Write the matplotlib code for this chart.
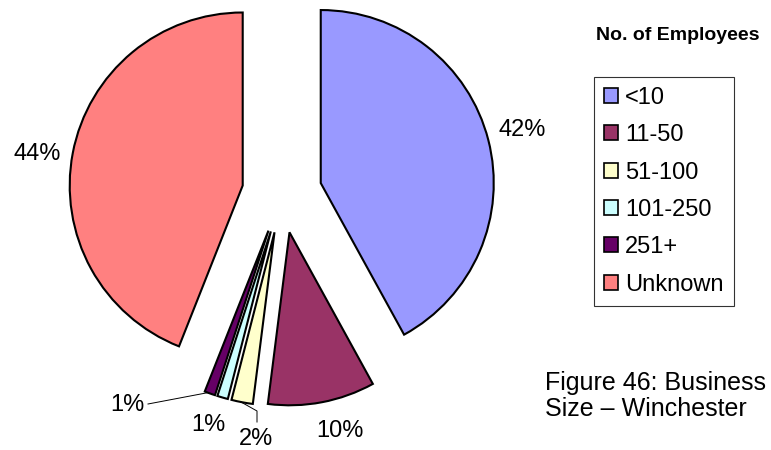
import numpy as np
import matplotlib
matplotlib.use("Agg")
import matplotlib.pyplot as plt
from matplotlib.patches import Patch

plt.rcParams['font.family'] = ['Liberation Sans', 'DejaVu Sans']

categories = ["<10", "11-50", "51-100", "101-250", "251+", "Unknown"]
values = [42, 10, 2, 1, 1, 44]
pct_labels = ["42%", "10%", "2%", "1%", "1%", "44%"]
colors = ["#9999FF", "#993366", "#FFFFCC", "#CCFFFF", "#660066", "#FF8080"]
legend_title = "No. of Employees"
caption = "Figure 46: Business\nSize \u2013 Winchester"

W, H = 771, 450
fig = plt.figure(figsize=(W / 100, H / 100), dpi=100)
ax = fig.add_axes([0, 0, 1, 1])

cx, cy = 282, H - 193
R = 173
explode = [40] * len(values)   # offset in data (pixel) units

wedges, _ = ax.pie(values, colors=colors, startangle=90, counterclock=False,
                   explode=explode, radius=R, center=(cx, cy),
                   wedgeprops=dict(edgecolor="black", linewidth=1.5))
ax.set_xlim(0, W)
ax.set_ylim(0, H)
ax.set_aspect('equal')
ax.axis('off')

# label positions (layout, pixel coords from top-left)
label_pos = [(522, 130), (340, 431), (256, 439), (208, 425), (127, 405), (37, 154)]
fs = 17
for i, w in enumerate(wedges):
    lx, ly = label_pos[i]
    ax.text(lx, H - ly, pct_labels[i], fontsize=fs, ha='center', va='center')

# leader lines from slice outer edges
def edge_point(w, frac=0.5):
    ang = np.deg2rad(w.theta1 + frac * (w.theta2 - w.theta1))
    ox, oy = w.center
    return ox + w.r * np.cos(ang), oy + w.r * np.sin(ang)

ex, ey = edge_point(wedges[2], 0.45)
ax.plot([ex, 257, 257], [ey, H - 411, H - 422], color='black', lw=0.7)
ex, ey = edge_point(wedges[4], 0.3)
ax.plot([ex, 148], [ey, H - 404], color='black', lw=0.7)

handles = [Patch(facecolor=c, edgecolor='black', linewidth=1.2) for c in colors]
leg = fig.legend(handles, categories, loc='upper left',
                 bbox_to_anchor=(594 / W, 1 - 77 / H), fontsize=fs,
                 frameon=True, fancybox=False, shadow=False,
                 handlelength=0.6, handleheight=0.6, handletextpad=0.3,
                 labelspacing=0.65, borderpad=0.42, borderaxespad=0)
leg.get_frame().set_edgecolor('black')
leg.get_frame().set_linewidth(0.8)

fig.text(678 / W, 1 - 35 / H, legend_title, fontsize=14, fontweight='bold',
         ha='center', va='center')
fig.text(545 / W, 1 - 396 / H, caption, fontsize=18, ha='left', va='center',
         linespacing=1.12)

fig.savefig("out.png", dpi=100)
